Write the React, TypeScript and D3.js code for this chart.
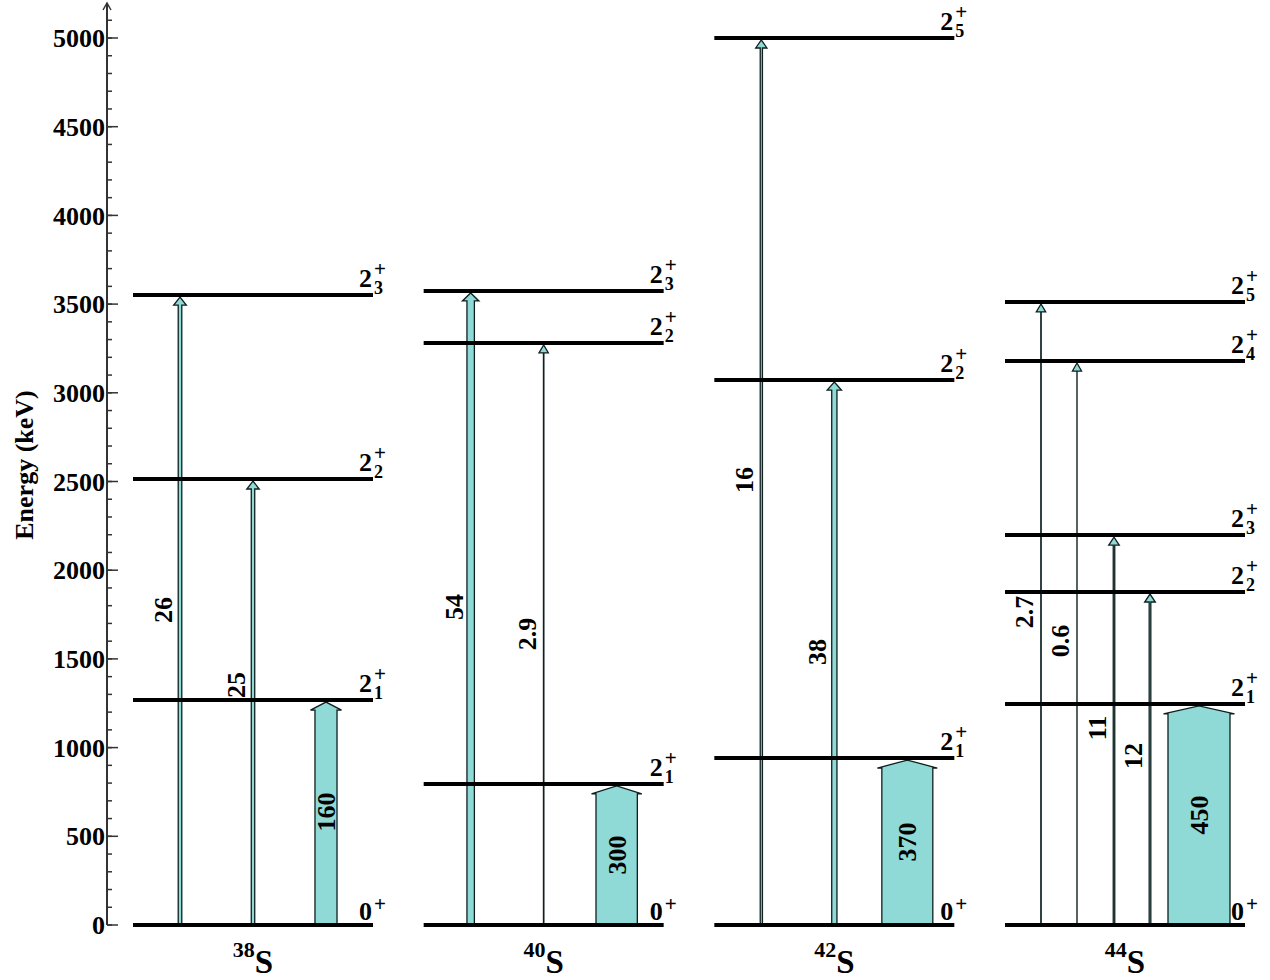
import React from 'react';
import * as d3 from 'd3';

// ---------- data ----------
const nuclei = ['38', '40', '42', '44'];

// level energies (keV) and the subscript index of each 2+ level (0 = ground 0+)
const s38Energies = [0, 1268, 2514, 3551];
const s38Indices = [0, 1, 2, 3];
const s40Energies = [0, 795, 3281, 3574];
const s40Indices = [0, 1, 2, 3];
const s42Energies = [0, 941, 3072, 5000];
const s42Indices = [0, 1, 2, 5];
const s44Energies = [0, 1246, 1877, 2198, 3179, 3512];
const s44Indices = [0, 1, 2, 3, 4, 5];

// B(E2) transition strengths and their target level (position in the energies list)
const s38BE2 = [26, 25, 160];
const s38Targets = [3, 2, 1];
const s40BE2 = [54, 2.9, 300];
const s40Targets = [3, 2, 1];
const s42BE2 = [16, 38, 370];
const s42Targets = [3, 2, 1];
const s44BE2 = [2.7, 0.6, 11, 12, 450];
const s44Targets = [5, 4, 3, 2, 1];

const majorTicks = [0, 500, 1000, 1500, 2000, 2500, 3000, 3500, 4000, 4500, 5000];

// ---------- layout (positions, not data) ----------
const s38ArrowX = [47, 120, 193];
const s40ArrowX = [47, 120, 193];
const s42ArrowX = [47, 120, 193];
const s44ArrowX = [36, 72, 109, 145, 194];
const s38LabelE = [1776, 1353, 637];
const s40LabelE = [1793, 1640, 395];
const s42LabelE = [2508, 1539, 468];
const s44LabelE = [1764, 1601, 1110, 953, 620];

const panels = [
  { energies: s38Energies, indices: s38Indices, be2: s38BE2, targets: s38Targets, ax: s38ArrowX, le: s38LabelE },
  { energies: s40Energies, indices: s40Indices, be2: s40BE2, targets: s40Targets, ax: s40ArrowX, le: s40LabelE },
  { energies: s42Energies, indices: s42Indices, be2: s42BE2, targets: s42Targets, ax: s42ArrowX, le: s42LabelE },
  { energies: s44Energies, indices: s44Indices, be2: s44BE2, targets: s44Targets, ax: s44ArrowX, le: s44LabelE },
];

const FONT = '"Liberation Serif", "Times New Roman", serif';
const FILL = '#8fd9d6';
const STROKE = '#0f1f1f';

export default function App() {
  const W = 1270;
  const H = 980;
  const y = d3.scaleLinear().domain([0, 5000]).range([925, 38]);
  const x = d3.scaleBand<string>().domain(nuclei).range([133, 1245]).paddingInner(0.1743).paddingOuter(0);
  const w = d3.scaleLinear().domain([0, 450]).range([0, 62]);
  const axisX = 107;
  const minor = d3.range(0, 5101, 100);

  const arrowPath = (cx: number, e: number, v: number) => {
    const y0 = y(0);
    const y1 = y(e) + 2;
    const hw = w(v) / 2;
    const hh = 8;
    const head = hw + 4.5;
    const pts: [number, number][] = [
      [cx - hw, y0],
      [cx - hw, y1 + hh],
      [cx - head, y1 + hh],
      [cx, y1],
      [cx + head, y1 + hh],
      [cx + hw, y1 + hh],
      [cx + hw, y0],
    ];
    return d3.line()(pts) + 'Z';
  };

  return (
    <svg width={W} height={H} style={{ display: 'block', position: 'absolute', left: 0, top: 0 }} fontFamily={FONT} fontWeight="bold">
      <rect width={W} height={H} fill="#fff" />
      {/* y axis */}
      <line x1={axisX} x2={axisX} y1={y(0)} y2={3} stroke="#333" strokeWidth={2} />
      <path d={`M${axisX - 4},${10} L${axisX},${3} L${axisX + 4},${10}`} fill="none" stroke="#333" strokeWidth={1.5} />
      {minor.map((t) => (
        <line key={'m' + t} x1={axisX} x2={axisX + 5} y1={y(t)} y2={y(t)} stroke="#333" strokeWidth={1.5} />
      ))}
      {majorTicks.map((t) => (
        <g key={'M' + t}>
          <line x1={axisX} x2={axisX + 11} y1={y(t)} y2={y(t)} stroke="#333" strokeWidth={1.5} />
          <text x={axisX - 2} y={y(t)} dy="0.35em" textAnchor="end" fontSize={26}>
            {t}
          </text>
        </g>
      ))}
      <text transform={`translate(33,465) rotate(-90)`} textAnchor="middle" fontSize={26}>
        Energy (keV)
      </text>

      {panels.map((p, pi) => {
        const nuc = nuclei[pi];
        const x0 = x(nuc) as number;
        const x1 = x0 + x.bandwidth();
        return (
          <g key={nuc}>
            {/* arrows */}
            {p.be2.map((v, i) => {
              const cx = x0 + p.ax[i];
              const e = p.energies[p.targets[i]];
              const big = v >= 100;
              const lx = big ? cx : cx - 17;
              const ly = y(p.le[i]);
              return (
                <g key={'a' + i}>
                  <path d={arrowPath(cx, e, v)} fill={FILL} stroke={STROKE} strokeWidth={1.3} strokeLinejoin="miter" />
                  <text transform={`translate(${lx},${ly}) rotate(-90)`} textAnchor="middle" dy="0.35em" fontSize={26} fill="#000">
                    {v}
                  </text>
                </g>
              );
            })}
            {/* levels */}
            {p.energies.map((e, i) => {
              const ly = y(e);
              const idx = p.indices[i];
              return (
                <g key={'l' + i}>
                  <line x1={x0} x2={x1} y1={ly} y2={ly} stroke="#000" strokeWidth={4} />
                  {idx === 0 ? (
                    <g>
                      <text x={x1 - 14} y={ly - 5} fontSize={26}>0</text>
                      <text x={x1 + 1} y={ly - 14} fontSize={21}>+</text>
                    </g>
                  ) : (
                    <g>
                      <text x={x1 - 14} y={ly - 8} fontSize={26}>2</text>
                      <text x={x1 + 1} y={ly - 19} fontSize={21}>+</text>
                      <text x={x1 + 1} y={ly - 1} fontSize={18}>{idx}</text>
                    </g>
                  )}
                </g>
              );
            })}
            {/* nucleus label */}
            <text x={(x0 + x1) / 2} y={973} textAnchor="middle" fontSize={33}>
              <tspan fontSize={22} dy={-16}>{nuc}</tspan>
              <tspan fontSize={33} dy={16}>S</tspan>
            </text>
          </g>
        );
      })}
    </svg>
  );
}
